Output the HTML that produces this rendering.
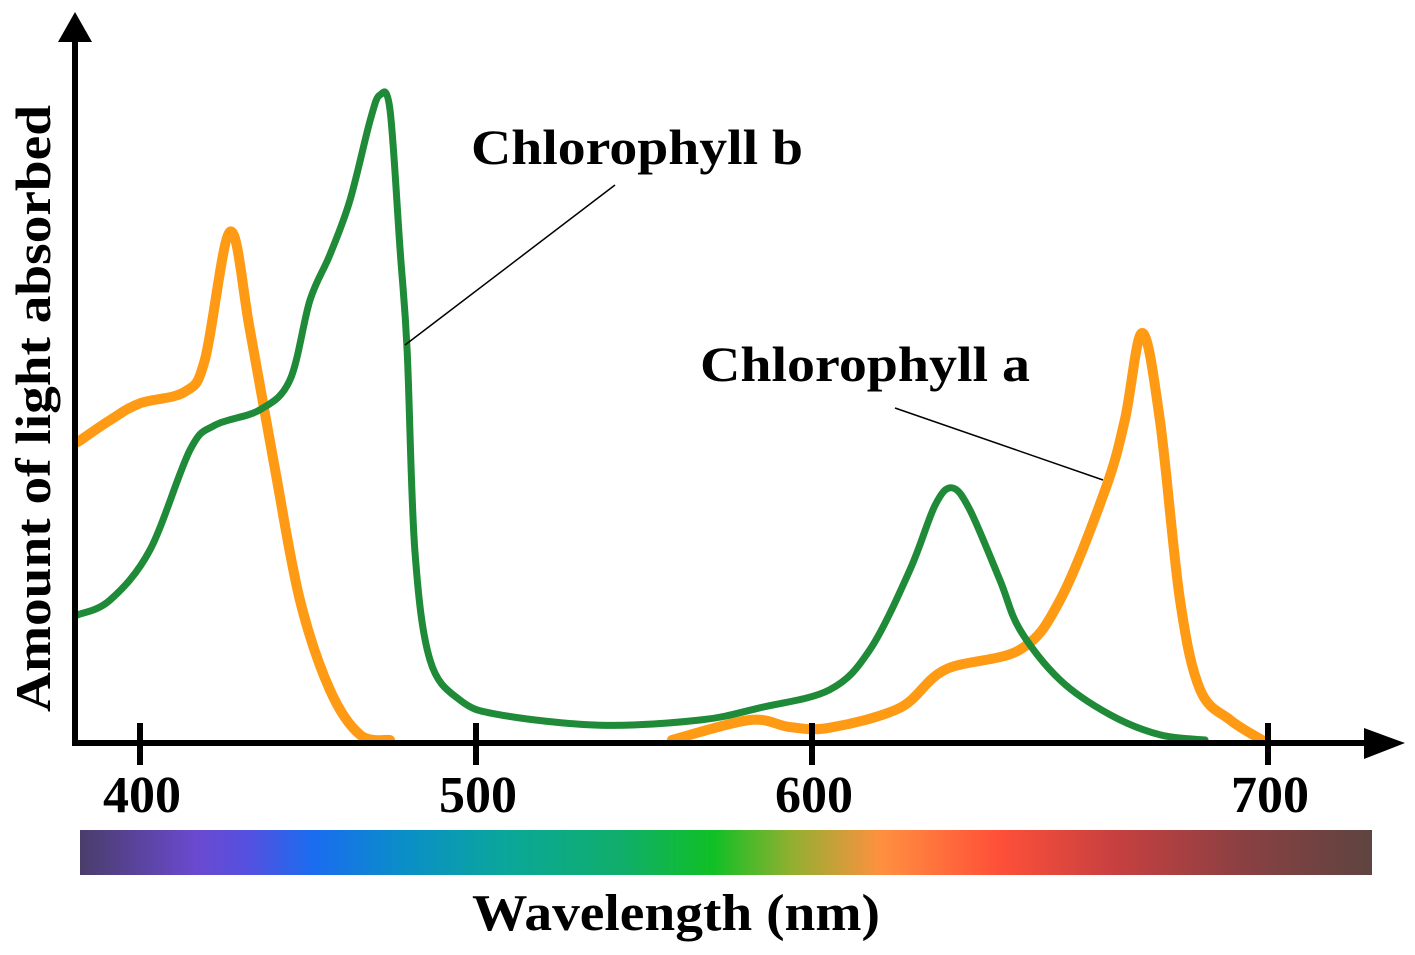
<!DOCTYPE html>
<html><head><meta charset="utf-8"><style>
html,body{margin:0;padding:0;background:#fff;}
svg{display:block;}
text{font-family:"Liberation Serif",serif;font-weight:bold;fill:#000;}
</style></head><body>
<svg id="chart" width="1415" height="955" viewBox="0 0 1415 955" xmlns="http://www.w3.org/2000/svg">
<defs>
<linearGradient id="spec" x1="0" x2="1" y1="0" y2="0">
<stop offset="0" stop-color="#4a3d6a"/>
<stop offset="0.09" stop-color="#6a4ad0"/>
<stop offset="0.13" stop-color="#5550e0"/>
<stop offset="0.18" stop-color="#1b6cf0"/>
<stop offset="0.25" stop-color="#0a8ec8"/>
<stop offset="0.33" stop-color="#0aa79a"/>
<stop offset="0.42" stop-color="#10ae6a"/>
<stop offset="0.49" stop-color="#10c025"/>
<stop offset="0.55" stop-color="#90b030"/>
<stop offset="0.62" stop-color="#ff9040"/>
<stop offset="0.71" stop-color="#ff5038"/>
<stop offset="0.80" stop-color="#c84040"/>
<stop offset="0.90" stop-color="#8a4042"/>
<stop offset="1" stop-color="#5e4440"/>
</linearGradient>
</defs>
<g id="curves"></g>
<line x1="75" y1="35" x2="75" y2="746" stroke="#000" stroke-width="6"/>
<polygon points="75,12 58,42 92,42" fill="#000"/>
<line x1="72" y1="743" x2="1370" y2="743" stroke="#000" stroke-width="6"/>
<polygon points="1405,743 1364,728 1364,759" fill="#000"/>
<g id="ticks"></g>
<rect x="80" y="830" width="1292" height="45" fill="url(#spec)"/>
<text x="472" y="930" font-size="52" textLength="408" lengthAdjust="spacingAndGlyphs">Wavelength (nm)</text>
<text transform="translate(50,712) rotate(-90)" font-size="50" textLength="607" lengthAdjust="spacingAndGlyphs">Amount of light absorbed</text>
<text x="471" y="164" font-size="50" textLength="332" lengthAdjust="spacingAndGlyphs">Chlorophyll b</text>
<line x1="615" y1="185" x2="405" y2="345" stroke="#000" stroke-width="1.5"/>
<text x="700" y="381" font-size="50" textLength="330" lengthAdjust="spacingAndGlyphs">Chlorophyll a</text>
<line x1="895" y1="408" x2="1103" y2="480" stroke="#000" stroke-width="1.5"/>
</svg>
<script>
const tickLabels = [400, 500, 600, 700];
const chlAWl1 = [381.5,391.1,400,413.4,419.3,426.8,432.7,440.2,447.6,456.5,465.5,474.4];
const chlAVal1 = [46.2,49.6,52.2,54.0,58.9,78.8,63.6,41.9,21.7,7.8,0.8,0];
const chlAWl2 = [558.3,581.5,593.5,603.9,619.3,629.2,645.6,654.4,664.3,668.6,672.4,676.3,680.7,685.1,691.7,698.7];
const chlAVal2 = [0,3.1,2.0,1.9,5.0,10.9,14.0,21.7,38.8,49.6,63.1,49.6,21.7,7.8,3.1,0];
const chlBWl = [381.5,391.1,403.0,414.9,422.3,435.7,444.6,450.6,456.5,462.5,468.5,471.4,474.4,477.4,479.5,481.8,486.3,495.2,507.1,536.9,566.7,584.5,603.9,612.7,621.5,627.0,630.7,634.6,641.2,645.6,654.4,665.4,676.3,686.2];
const chlBVal = [19.4,21.7,29.5,45.0,48.8,51.2,55.8,68.2,75.2,83.7,96.1,100,97.7,76.0,60.5,29.5,12.4,6.2,3.9,2.3,3.1,5.0,7.8,14.0,26.4,36.4,39.1,35.7,24.8,17.1,9.3,3.9,0.8,0];

function xScale(w){ return w<=600 ? 140+(w-400)*3.36 : 812+(w-600)*4.56; }
function yScale(v){ return 740 - v*6.45; }
function pathFrom(ws, vs){
  const p = ws.map((w,i)=>[xScale(w), yScale(vs[i])]);
  let d = 'M'+p[0][0].toFixed(1)+','+p[0][1].toFixed(1);
  for(let i=0;i<p.length-1;i++){
    const p0=p[i-1]||p[i], p1=p[i], p2=p[i+1], p3=p[i+2]||p2;
    const c1=[p1[0]+(p2[0]-p0[0])/6, p1[1]+(p2[1]-p0[1])/6];
    const c2=[p2[0]-(p3[0]-p1[0])/6, p2[1]-(p3[1]-p1[1])/6];
    d+=' C'+c1[0].toFixed(1)+','+c1[1].toFixed(1)+' '+c2[0].toFixed(1)+','+c2[1].toFixed(1)+' '+p2[0].toFixed(1)+','+p2[1].toFixed(1);
  }
  return d;
}
const NS='http://www.w3.org/2000/svg';
const g=document.getElementById('curves');
function addPath(d,color,w,name){
  const el=document.createElementNS(NS,'path');
  el.setAttribute('d',d);el.setAttribute('fill','none');el.setAttribute('stroke',color);
  el.setAttribute('stroke-width',w);el.setAttribute('stroke-linejoin','round');el.setAttribute('stroke-linecap','round');
  
  
  g.appendChild(el);
}
addPath(pathFrom(chlAWl1,chlAVal1),'#ff9a14',10,'chlorophyll-a-line');
addPath(pathFrom(chlAWl2,chlAVal2),'#ff9a14',10,'chlorophyll-a-line');
addPath(pathFrom(chlBWl,chlBVal),'#1f8a37',7,'chlorophyll-b-line');
const tg=document.getElementById('ticks');
tickLabels.forEach(t=>{
  const x=xScale(t);
  const l=document.createElementNS(NS,'line');
  l.setAttribute('x1',x);l.setAttribute('x2',x);l.setAttribute('y1',723);l.setAttribute('y2',765);
  l.setAttribute('stroke','#000');l.setAttribute('stroke-width',6);
  
  
  tg.appendChild(l);
  const tx=document.createElementNS(NS,'text');
  tx.setAttribute('x',x+2);tx.setAttribute('y',812);tx.setAttribute('font-size',52);tx.setAttribute('text-anchor','middle');
  tx.textContent=t;
  
  
  tg.appendChild(tx);
});
</script>
</body></html>
